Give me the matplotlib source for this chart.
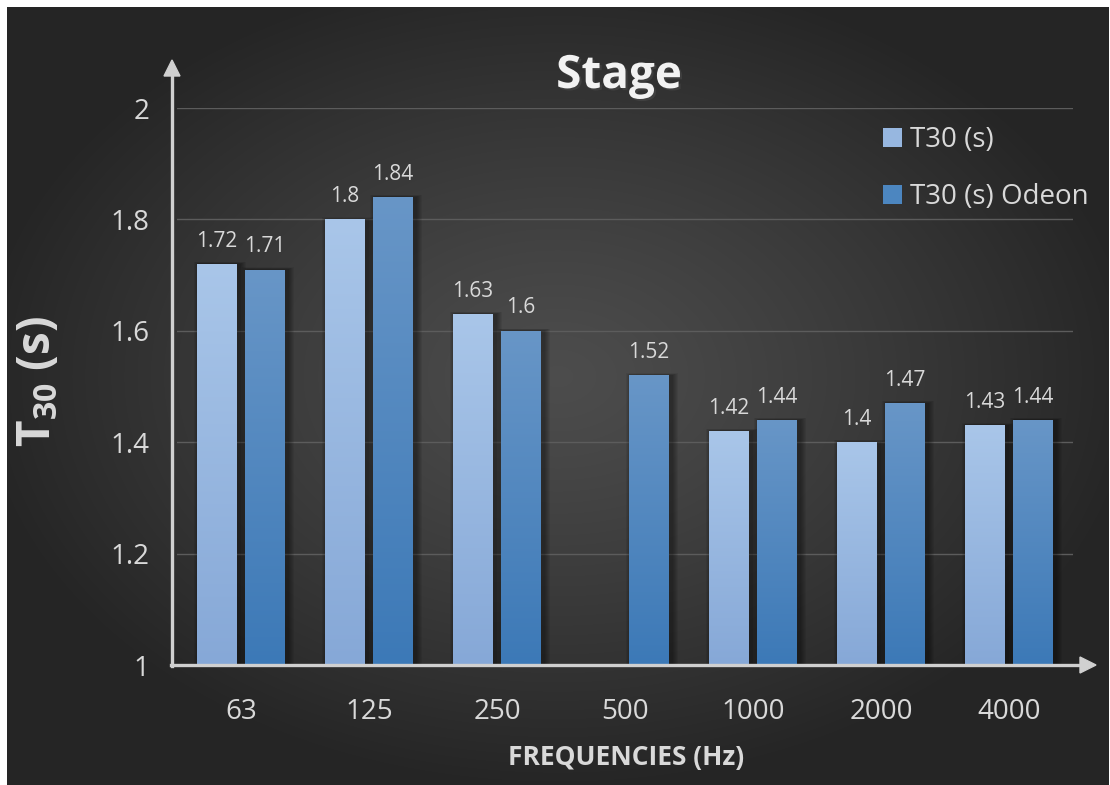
import numpy as np
import matplotlib
matplotlib.use("Agg")
import matplotlib.pyplot as plt
import matplotlib.patheffects as pe
from matplotlib.colors import LinearSegmentedColormap
from matplotlib.patches import Patch, Polygon
from matplotlib.lines import Line2D

# ---- data -------------------------------------------------------------
frequencies = ["63", "125", "250", "500", "1000", "2000", "4000"]
t30_measured = [1.72, 1.80, 1.63, np.nan, 1.42, 1.40, 1.43]
t30_odeon = [1.71, 1.84, 1.60, 1.52, 1.44, 1.47, 1.44]
series_names = ["T30 (s)", "T30 (s) Odeon"]
y_ticks = [1, 1.2, 1.4, 1.6, 1.8, 2]

# ---- style ------------------------------------------------------------
plt.rcParams["font.family"] = ["Open Sans", "DejaVu Sans"]
plt.rcParams["mathtext.fontset"] = "custom"
plt.rcParams["mathtext.rm"] = "Open Sans"
plt.rcParams["mathtext.bf"] = "Open Sans:bold"

W, H = 1110, 785
TEXT = "#d9d9d9"
AXIS = "#d0d0d0"
light_top, light_bot = "#a9c6e9", "#86a8d7"
dark_top, dark_bot = "#6896c7", "#3c79b7"

fig = plt.figure(figsize=(W / 100, H / 100), dpi=100, facecolor="white")


def fx(px):
    return px / W


def fy(py):
    return 1 - py / H


# radial dark background panel
bg = fig.add_axes([fx(7), 0, fx(W - 8), fy(7)])
bg.set_axis_off()
gx, gy = np.meshgrid(np.linspace(-1, 1, 400), np.linspace(-1, 1, 300))
r = np.sqrt((gx / 1.05) ** 2 + ((gy + 0.05) / 1.05) ** 2)
r = np.clip(r, 0, 1)
shade = 0.300 - (0.300 - 0.148) * r ** 1.2
bg.imshow(np.dstack([shade] * 3), extent=[0, 1, 0, 1], aspect="auto",
          interpolation="bicubic")
bg.set_xlim(0, 1)
bg.set_ylim(0, 1)

# main plot area
ax = fig.add_axes([fx(177), fy(665), fx(1073 - 177), (665 - 108) / H])
ax.patch.set_alpha(0)
for s in ax.spines.values():
    s.set_visible(False)

x = np.arange(len(frequencies))
w = 0.3125
off = 0.1875
px_x = 1 / 128.0
px_y = 1 / 557.0

ax.set_ylim(1, 2)
ax.set_xlim(-0.5, len(frequencies) - 0.5)
ax.set_yticks(y_ticks)
ax.set_yticklabels([f"{t:g}" for t in y_ticks])
ax.set_xticks(x)
ax.set_xticklabels(frequencies)
ax.tick_params(axis="both", length=0, colors=TEXT, labelsize=20)
ax.tick_params(axis="y", pad=20)
ax.tick_params(axis="x", pad=24)
ax.grid(axis="y", color="#5c5c5c", linewidth=1.0)
ax.set_axisbelow(True)

series = [
    (np.array(t30_measured), -off, light_top, light_bot),
    (np.array(t30_odeon), off, dark_top, dark_bot),
]

for vals, dx, ctop, cbot in series:
    h = vals - 1
    # soft drop shadow, mostly to the right
    for k in range(1, 7):
        ax.bar(x + dx + 2.5 * px_x, h + 0.35 * k * px_y, width=w + 2 * k * px_x,
               bottom=1, color="black", alpha=0.065, zorder=2, linewidth=0)
    bars = ax.bar(x + dx, h, width=w, bottom=1, color=cbot, zorder=3,
                  linewidth=0)
    cmap = LinearSegmentedColormap.from_list("g", [cbot, ctop])
    grad = np.linspace(0, 1, 256).reshape(-1, 1)
    for b, v in zip(bars, vals):
        if np.isnan(v):
            continue
        x0, y0 = b.get_x(), b.get_y()
        im = ax.imshow(grad, extent=[x0, x0 + b.get_width(), y0, y0 + b.get_height()],
                       origin="lower", aspect="auto", cmap=cmap, zorder=4)
        im.set_clip_path(b)
        ax.annotate(f"{v:g}", (b.get_x() + b.get_width() / 2, v),
                    xytext=(0, 12.5), textcoords="offset points",
                    ha="center", va="baseline", color=TEXT, fontsize=15,
                    zorder=5)

ax.set_ylim(1, 2)
ax.set_xlim(-0.5, len(frequencies) - 0.5)

# arrow-headed axes
fig.add_artist(Line2D([fx(172), fx(172)], [fy(666), fy(74)], color=AXIS,
                      linewidth=2.4, transform=fig.transFigure))
fig.add_artist(Polygon([[fx(164), fy(76)], [fx(180), fy(76)], [fx(172), fy(60)]],
                       closed=True, color=AXIS, transform=fig.transFigure))
fig.add_artist(Line2D([fx(171), fx(1082)], [fy(665), fy(665)], color=AXIS,
                      linewidth=2.4, transform=fig.transFigure))
fig.add_artist(Polygon([[fx(1080), fy(657)], [fx(1080), fy(673)], [fx(1096), fy(665)]],
                       closed=True, color=AXIS, transform=fig.transFigure))

# titles
fig.text(fx(619), fy(88), "Stage", ha="center", va="baseline", fontsize=33,
         fontweight="bold", color="#f2f2f2",
         path_effects=[pe.SimplePatchShadow(offset=(1.5, -1.5), alpha=0.6),
                       pe.Normal()])
fig.text(fx(38), fy(382), r"$\mathbf{T}_{\mathbf{30}}$ (s)", rotation=90,
         ha="center", va="center", fontsize=33, fontweight="bold", color=TEXT)
fig.text(fx(626), fy(765), "FREQUENCIES (Hz)", ha="center", va="baseline",
         fontsize=19, fontweight="bold", color=TEXT)

# legend
handles = [Patch(facecolor="#97b7e0", edgecolor="none"),
           Patch(facecolor="#4c86c0", edgecolor="none")]
fig.legend(handles, series_names, loc="upper left",
           bbox_to_anchor=(fx(883), fy(126)), bbox_transform=fig.transFigure,
           frameon=False, fontsize=20, labelcolor=TEXT, handlelength=0.68,
           handleheight=0.68, handletextpad=0.28, labelspacing=1.05,
           borderpad=0, borderaxespad=0)

fig.savefig("out.png", dpi=100, facecolor="white")
